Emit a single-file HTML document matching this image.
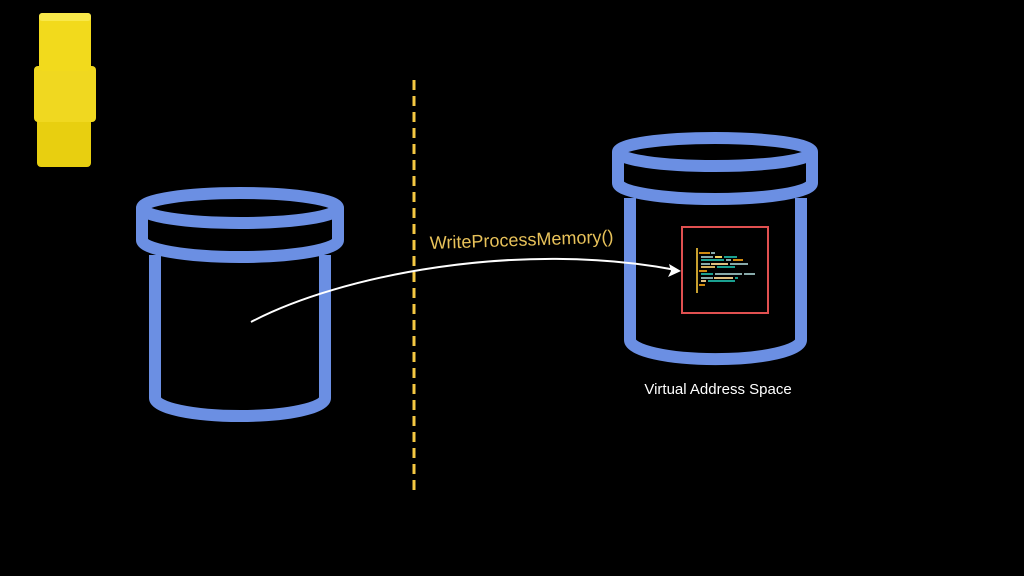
<!DOCTYPE html>
<html><head><style>html,body{margin:0;padding:0;background:#000;}svg{display:block}</style></head>
<body>
<svg width="1024" height="576" viewBox="0 0 1024 576" xmlns="http://www.w3.org/2000/svg">
<rect width="1024" height="576" fill="#000"/>
<g>
<rect x="37" y="107" width="54" height="60" rx="4" fill="#e8cf10"/>
<rect x="34" y="66" width="62" height="56" rx="4" fill="#f0d820"/>
<rect x="39" y="13" width="52" height="58" rx="4" fill="#f2da1c"/>
<rect x="39" y="13" width="52" height="8" rx="3" fill="#f8e84a"/>
</g>
<line x1="414" y1="80" x2="414" y2="494" stroke="#f5c842" stroke-width="3" stroke-dasharray="10 6"/>
<g fill="none" stroke="#6b8fe3" stroke-width="12" stroke-linejoin="round">
<ellipse cx="240" cy="208" rx="98" ry="15"/>
<path d="M142 208 V240 A98 17 0 0 0 338 240 V208"/>
<path d="M155 255 V398 A85 18 0 0 0 325 398 V255"/>
<ellipse cx="715" cy="152" rx="97" ry="14"/>
<path d="M618 152 V183 A97 16 0 0 0 812 183 V152"/>
<path d="M630 198 V340 A85 19 0 0 0 801 340 V198"/>
</g>
<path d="M251 322 C340 275 520 240 676 270" fill="none" stroke="#fff" stroke-width="2"/>
<path d="M681 271 L669 264 L671 271 L668 277 Z" fill="#fff"/>
<text x="430" y="249" font-family="Liberation Sans, sans-serif" font-size="18" fill="#e8c25a" transform="rotate(-2 430 249)">WriteProcessMemory()</text>
<rect x="682" y="227" width="86" height="86" fill="#000" stroke="#e05050" stroke-width="2"/>
<g stroke-width="2">
<line x1="697" y1="248" x2="697" y2="293" stroke="#c8a030"/>
<line x1="699" y1="253" x2="710" y2="253" stroke="#d08a10"/><line x1="711" y1="253" x2="715" y2="253" stroke="#8aa"/>
<line x1="701" y1="257" x2="713" y2="257" stroke="#8aa"/><line x1="715" y1="257" x2="722" y2="257" stroke="#f0d060"/><line x1="724" y1="257" x2="737" y2="257" stroke="#1aa090"/>
<line x1="701" y1="260" x2="724" y2="260" stroke="#1aa090"/><line x1="726" y1="260" x2="731" y2="260" stroke="#8aa"/><line x1="733" y1="260" x2="743" y2="260" stroke="#d08a10"/>
<line x1="701" y1="264" x2="710" y2="264" stroke="#8aa"/><line x1="711" y1="264" x2="728" y2="264" stroke="#e0c080"/><line x1="730" y1="264" x2="748" y2="264" stroke="#8aa"/>
<line x1="701" y1="267" x2="715" y2="267" stroke="#d0b060"/><line x1="717" y1="267" x2="735" y2="267" stroke="#1aa090"/>
<line x1="699" y1="271" x2="707" y2="271" stroke="#d08a10"/>
<line x1="701" y1="274" x2="713" y2="274" stroke="#1aa090"/><line x1="715" y1="274" x2="742" y2="274" stroke="#8aa"/><line x1="744" y1="274" x2="755" y2="274" stroke="#8aa"/>
<line x1="701" y1="278" x2="713" y2="278" stroke="#8aa"/><line x1="714" y1="278" x2="733" y2="278" stroke="#e0c080"/><line x1="735" y1="278" x2="738" y2="278" stroke="#1aa090"/>
<line x1="701" y1="281" x2="706" y2="281" stroke="#e0c080"/><line x1="708" y1="281" x2="735" y2="281" stroke="#1aa090"/>
<line x1="699" y1="285" x2="705" y2="285" stroke="#d08a10"/>
</g>
<text x="718" y="394" text-anchor="middle" font-family="Liberation Sans, sans-serif" font-size="15" fill="#fff">Virtual Address Space</text>
</svg>
</body></html>
